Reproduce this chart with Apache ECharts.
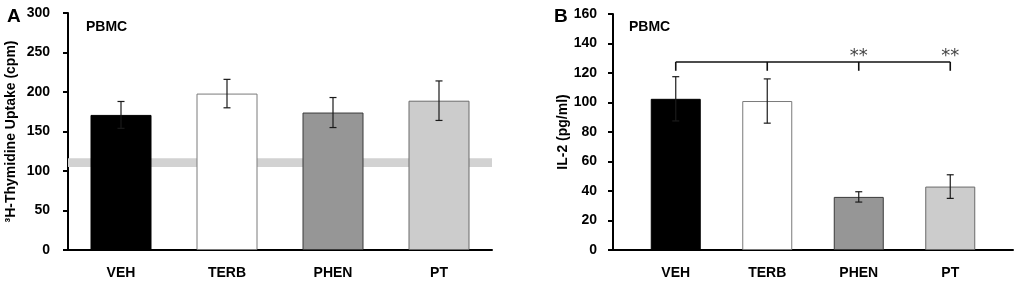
<!DOCTYPE html>
<html>
<head>
<meta charset="utf-8">
<script src="https://cdn.jsdelivr.net/npm/echarts@6/dist/echarts.min.js"></script>
<style>
  html, body { margin: 0; padding: 0; background: #fff; }
  #chart { width: 1019px; height: 286px; }
</style>
</head>
<body>
<div id="chart"></div>
<script>
const categories = ["VEH", "TERB", "PHEN", "PT"];
// panel A: 3H-thymidine uptake (cpm)
const thymidine = [171, 198, 174, 189];
const thymidineErr = [17, 18, 19, 25];
const backgroundBand = [105, 116];
// panel B: IL-2 (pg/ml)
const il2 = [102.5, 101, 36, 43];
const il2Err = [15, 15, 3.5, 8];
const bracketTop = 127.5;
const bracketBottom = 121.5;
const sigMarks = ["", "", "**", "**"];

const barColors = ["#000000", "#ffffff", "#969696", "#cccccc"];
const barBorders = ["#000000", "#7a7a7a", "#3a3a3a", "#6a6a6a"];
const FONT = "'Liberation Sans', Arial, sans-serif";
const NARROW = "'Liberation Sans Narrow', 'Liberation Sans', Arial, sans-serif";

function barData(values) {
  return values.map((v, i) => ({
    value: v,
    itemStyle: { color: barColors[i], borderColor: barBorders[i], borderWidth: 1 },
  }));
}

function errData(values, errs) {
  return values.map((v, i) => [i, v - errs[i], v + errs[i]]);
}

// vertical line with two caps
function renderError(params, api) {
  const x = api.value(0);
  const top = api.coord([x, api.value(2)]);
  const bot = api.coord([x, api.value(1)]);
  const cap = 3.5;
  const style = { stroke: "#1a1a1a", lineWidth: 1.2 };
  return {
    type: "group",
    children: [
      { type: "line", shape: { x1: top[0], y1: top[1], x2: bot[0], y2: bot[1] }, style },
      { type: "line", shape: { x1: top[0] - cap, y1: top[1], x2: top[0] + cap, y2: top[1] }, style },
      { type: "line", shape: { x1: bot[0] - cap, y1: bot[1], x2: bot[0] + cap, y2: bot[1] }, style },
    ],
  };
}

// significance bracket over the panel B bars
function renderBracket(params, api) {
  const i = api.value(0);
  const top = api.coord([i, api.value(1)]);
  const bot = api.coord([i, api.value(2)]);
  const style = { stroke: "#111", lineWidth: 1.6 };
  const children = [
    { type: "line", shape: { x1: top[0], y1: top[1], x2: bot[0], y2: bot[1] }, style },
  ];
  if (i === 0) {
    const end = api.coord([categories.length - 1, api.value(1)]);
    children.push({ type: "line", shape: { x1: top[0], y1: top[1], x2: end[0], y2: end[1] }, style });
  }
  if (sigMarks[i]) {
    children.push({
      type: "text",
      style: {
        x: top[0], y: top[1] + 3, text: sigMarks[i],
        fill: "#444", font: "18px 'DejaVu Sans', sans-serif",
        align: "center", verticalAlign: "bottom",
      },
    });
  }
  return { type: "group", children };
}

function valueAxis(gridIndex, max, interval, name, nameGap, margin, offset) {
  return {
    type: "value",
    gridIndex,
    min: 0,
    max,
    interval,
    offset,
    name,
    nameLocation: "middle",
    nameGap,
    nameTextStyle: { fontFamily: FONT, fontWeight: "bold", fontSize: 14, color: "#000" },
    axisLine: { show: true, lineStyle: { color: "#000", width: 2 } },
    axisTick: { show: true, length: 5, lineStyle: { color: "#000", width: 2 } },
    axisLabel: { margin, fontFamily: NARROW, fontWeight: "bold", fontSize: 14, color: "#000" },
    splitLine: { show: false },
  };
}

function catAxis(gridIndex, showLine) {
  return {
    type: "category",
    gridIndex,
    data: categories,
    axisLine: { show: showLine, lineStyle: { color: "#000", width: 2 } },
    axisTick: { show: false },
    axisLabel: { margin: 16, fontFamily: FONT, fontWeight: "bold", fontSize: 14, color: "#000" },
  };
}

const chart = echarts.init(document.getElementById("chart"));
chart.setOption({
  animation: false,
  title: [
    { text: "A", left: 2, top: 2, textStyle: { fontFamily: FONT, fontWeight: "bold", fontSize: 19, color: "#000" } },
    { text: "PBMC", left: 81, top: 15, textStyle: { fontFamily: FONT, fontWeight: "bold", fontSize: 14, color: "#000" } },
    { text: "B", left: 549, top: 2, textStyle: { fontFamily: FONT, fontWeight: "bold", fontSize: 19, color: "#000" } },
    { text: "PBMC", left: 624, top: 15, textStyle: { fontFamily: FONT, fontWeight: "bold", fontSize: 14, color: "#000" } },
  ],
  grid: [
    { left: 68, top: 13, width: 424, height: 237 },
    { left: 630, top: 14, width: 366, height: 236 },
    // only used to draw the longer x axis line of panel B
    { left: 613, top: 14, width: 400, height: 236 },
  ],
  xAxis: [
    catAxis(0, true),
    catAxis(1, false),
    {
      type: "value", gridIndex: 2, min: 0, max: 1,
      axisLine: { show: true, lineStyle: { color: "#000", width: 2 } },
      axisTick: { show: false }, axisLabel: { show: false }, splitLine: { show: false },
    },
  ],
  yAxis: [
    valueAxis(0, 300, 50, "³H-Thymidine Uptake (cpm)", 50, 18, 0),
    valueAxis(1, 160, 20, "IL-2 (pg/ml)", 40, 16, 17),
    { type: "value", gridIndex: 2, show: false, min: 0, max: 1 },
  ],
  series: [
    {
      type: "bar",
      xAxisIndex: 0,
      yAxisIndex: 0,
      barWidth: 61,
      z: 2,
      data: barData(thymidine),
      markArea: {
        silent: true,
        z: 1,
        itemStyle: { color: "#d2d2d2" },
        data: [[{ yAxis: backgroundBand[0] }, { yAxis: backgroundBand[1] }]],
      },
    },
    {
      type: "custom",
      xAxisIndex: 0,
      yAxisIndex: 0,
      z: 3,
      renderItem: renderError,
      data: errData(thymidine, thymidineErr),
    },
    {
      type: "bar",
      xAxisIndex: 1,
      yAxisIndex: 1,
      barWidth: 50,
      z: 2,
      data: barData(il2),
    },
    {
      type: "custom",
      xAxisIndex: 1,
      yAxisIndex: 1,
      z: 3,
      renderItem: renderError,
      data: errData(il2, il2Err),
    },
    {
      type: "custom",
      xAxisIndex: 1,
      yAxisIndex: 1,
      z: 3,
      renderItem: renderBracket,
      data: categories.map((c, i) => [i, bracketTop, bracketBottom]),
    },
  ],
});
</script>
</body>
</html>
